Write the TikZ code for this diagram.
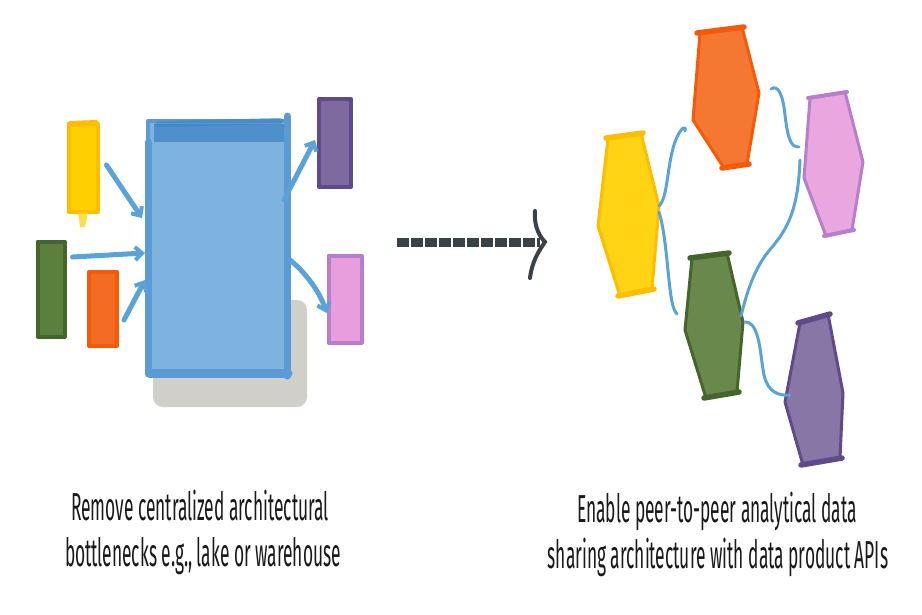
\documentclass[tikz,border=0pt]{standalone}
\usepackage{fontspec}
\newfontfamily\capfont[FakeStretch=0.445]{Fira Sans}
\usetikzlibrary{arrows.meta,calc}
\definecolor{bluefill}{HTML}{7FB3DF}
\definecolor{blueline}{HTML}{5A9BD6}
\definecolor{bluedark}{HTML}{3F83C4}
\definecolor{shadowgray}{HTML}{C9C7C1}
\definecolor{yelfill}{HTML}{FFD000}
\definecolor{yelline}{HTML}{FDBE00}
\definecolor{grnfill}{HTML}{5B7F3C}
\definecolor{grnline}{HTML}{44662C}
\definecolor{orgfill}{HTML}{F36C21}
\definecolor{orgline}{HTML}{F45A0A}
\definecolor{purfill}{HTML}{7E6A9E}
\definecolor{purline}{HTML}{5F4B8B}
\definecolor{pnkfill}{HTML}{E89EDC}
\definecolor{pnkline}{HTML}{B57FCB}
\definecolor{linkblue}{HTML}{5AA3D8}
\definecolor{darkarrow}{HTML}{3A4247}
\tikzset{
  x=1pt,y=-1pt,
  shapebox/.style={line width=4pt,line join=round,inner sep=0pt},
  hexline/.style={line width=3pt,line join=round,line cap=round},
  capline/.style={line width=5.5pt,line cap=round},
  flowarrow/.style={line width=5pt,linkblue,line cap=round,-{Straight Barb[length=7pt,width=13pt,line width=4pt]}},
  peerlink/.style={line width=3pt,linkblue,line cap=round},
  caption/.style={anchor=base,font=\capfont\fontsize{39}{46}\selectfont,text=black!90,inner sep=0pt}
}
\begin{document}
\begin{tikzpicture}
\useasboundingbox (0,0) rectangle (922,614);
% ---------- left: centralized ----------
\fill[shadowgray,opacity=0.85,rounded corners=10pt] (153,300) rectangle (307,407);
\node[shapebox,draw=blueline,fill=bluefill,minimum width=140pt,minimum height=254pt] (hub) at (218,248) {};
\draw[bluedark,line width=18pt,opacity=0.75] (154,133) -- (284,133);
\draw[bluedark,line width=6pt,line cap=round,opacity=0.6] (158,124) -- (280,121);
\draw[blueline,line width=7pt,line cap=round] (148,142) -- (148,374);
\draw[blueline,line width=7pt,line cap=round] (287,116) -- (287,376);
\draw[blueline,line width=9pt,line cap=round] (150,373) -- (288,373);
\node[shapebox,draw=yelline,fill=yelfill,minimum width=29pt,minimum height=88pt] (yel) at (83,168) {};
\draw[yelline,line width=6pt,line cap=round] (70,124) -- (96,123);
\fill[yelfill,opacity=0.7] (78,212) -- (88,212) -- (85,227) -- (80,227) -- cycle;
\node[shapebox,draw=grnline,fill=grnfill,minimum width=27pt,minimum height=95pt] (grn) at (51,289) {};
\node[shapebox,draw=orgline,fill=orgfill,minimum width=28pt,minimum height=74pt] (org) at (103,309) {};
\node[shapebox,draw=purline,fill=purfill,minimum width=32pt,minimum height=88pt] (pur) at (335,143) {};
\node[shapebox,draw=pnkline,fill=pnkfill,minimum width=33pt,minimum height=87pt] (pnk) at (345,299) {};
\draw[flowarrow] ($(yel.east)+(7,-3)$) -- ($(hub.west)+(-4,-30)$);
\draw[flowarrow] ($(grn.east)+(6,-32)$) -- ($(hub.west)+(-1,5)$);
\draw[flowarrow] ($(org.east)+(5,11)$) -- ($(hub.west)+(-1,32)$);
\draw[flowarrow] ($(hub.east)+(-6,-48)$) -- ($(pur.west)+(-2,-3)$);
\draw[flowarrow] ($(hub.east)+(0,12)$) .. controls (305,272) and (320,292) .. ($(pnk.west)+(0,14)$);
% ---------- middle arrow ----------
\coordinate (dstart) at (397,242);
\coordinate (dend) at (540,242);
\draw[darkarrow,line width=9pt,dash pattern=on 11.5pt off 2.5pt] (dstart) -- (dend);
\coordinate (tipA) at (535,211);
\coordinate (tipB) at (545,242);
\coordinate (tipC) at (530,278);
\draw[darkarrow,line width=4pt,line cap=round] (tipA) .. controls (534,222) and (537,234) .. (tipB) .. controls (538,252) and (532,262) .. (tipC);
% ---------- right: peer-to-peer ----------
% yellow
\coordinate (y1) at (608,138); \coordinate (y2) at (641,133); \coordinate (y3) at (659,206);
\coordinate (y4) at (652,289); \coordinate (y5) at (620,296); \coordinate (y6) at (598,226);
\fill[yelfill,opacity=0.92] (y1)--(y2)--(y3)--(y4)--(y5)--(y6)--cycle;
\draw[hexline,yelline] (y1)--(y2)--(y3)--(y4)--(y5)--(y6)--cycle;
\draw[capline,yelline] ([xshift=-2pt]y1) -- ([xshift=2pt]y2);
\draw[capline,yelline] ([xshift=-2pt]y5) -- ([xshift=2pt]y4);
% orange
\coordinate (o1) at (700,33); \coordinate (o2) at (742,27); \coordinate (o3) at (759,93);
\coordinate (o4) at (747,164); \coordinate (o5) at (724,168); \coordinate (o6) at (693,120);
\fill[orgfill,opacity=0.92] (o1)--(o2)--(o3)--(o4)--(o5)--(o6)--cycle;
\draw[hexline,orgline] (o1)--(o2)--(o3)--(o4)--(o5)--(o6)--cycle;
\draw[capline,orgline] ([xshift=-3pt]o1) -- ([xshift=2pt]o2);
\draw[capline,orgline] ([xshift=-2pt]o5) -- ([xshift=2pt]o4);
% pink
\coordinate (p1) at (810,98); \coordinate (p2) at (845,92); \coordinate (p3) at (863,162);
\coordinate (p4) at (852,230); \coordinate (p5) at (826,236); \coordinate (p6) at (804,178);
\fill[pnkfill,opacity=0.92] (p1)--(p2)--(p3)--(p4)--(p5)--(p6)--cycle;
\draw[hexline,pnkline] (p1)--(p2)--(p3)--(p4)--(p5)--(p6)--cycle;
\draw[capline,pnkline,line width=4pt] ([xshift=-2pt]p1) -- ([xshift=2pt]p2);
\draw[capline,pnkline,line width=4pt] ([xshift=-2pt]p5) -- ([xshift=2pt]p4);
% green
\coordinate (g1) at (692,258); \coordinate (g2) at (727,253); \coordinate (g3) at (743,322);
\coordinate (g4) at (737,392); \coordinate (g5) at (706,398); \coordinate (g6) at (685,330);
\fill[grnfill,opacity=0.92] (g1)--(g2)--(g3)--(g4)--(g5)--(g6)--cycle;
\draw[hexline,grnline] (g1)--(g2)--(g3)--(g4)--(g5)--(g6)--cycle;
\draw[capline,grnline] ([xshift=-2pt]g1) -- ([xshift=2pt]g2);
\draw[capline,grnline] ([xshift=-2pt]g5) -- ([xshift=2pt]g4);
% purple
\coordinate (u1) at (800,323); \coordinate (u2) at (828,314); \coordinate (u3) at (843,393);
\coordinate (u4) at (840,458); \coordinate (u5) at (803,465); \coordinate (u6) at (785,402);
\fill[purfill,opacity=0.92] (u1)--(u2)--(u3)--(u4)--(u5)--(u6)--cycle;
\draw[hexline,purline] (u1)--(u2)--(u3)--(u4)--(u5)--(u6)--cycle;
\draw[capline,purline] ([xshift=-2pt]u1) -- ([xshift=2pt]u2);
\draw[capline,purline] ([xshift=-2pt]u5) -- ([xshift=2pt]u4);
% links
\coordinate (lg) at (677,314);
\coordinate (lo2) at (771,89);
\coordinate (lp) at (799,147);
\coordinate (lp2) at (800,160);
\coordinate (lg2) at (741,316);
\coordinate (lu) at (790,395);
\draw[peerlink] (y3) .. controls (670,196) and (666,148) .. (682,129) .. controls (684,127) and (686,128) .. (685,131);
\draw[peerlink] ([yshift=-6pt]y3) .. controls (668,240) and (668,300) .. (675,311) .. controls (676,314) and (678,314) .. (lg);
\draw[peerlink] (lo2) .. controls (778,84) and (783,95) .. (785,115) .. controls (788,140) and (791,147) .. (lp);
\draw[peerlink] (lp2) .. controls (798,215) and (785,232) .. (768,252) .. controls (752,272) and (745,300) .. (lg2);
\draw[peerlink] ([xshift=2pt]g3) .. controls (760,322) and (760,355) .. (764,375) .. controls (768,392) and (778,396) .. (lu);
% ---------- captions ----------
\node[caption] (capL1) at (200,520) {Remove centralized architectural};
\node[caption] (capL2) at (203,566) {bottlenecks e.g., lake or warehouse};
\node[caption] (capR1) at (717,522) {Enable peer-to-peer analytical data};
\node[caption] (capR2) at (718,568) {sharing architecture with data product APIs};
\end{tikzpicture}
\end{document}
